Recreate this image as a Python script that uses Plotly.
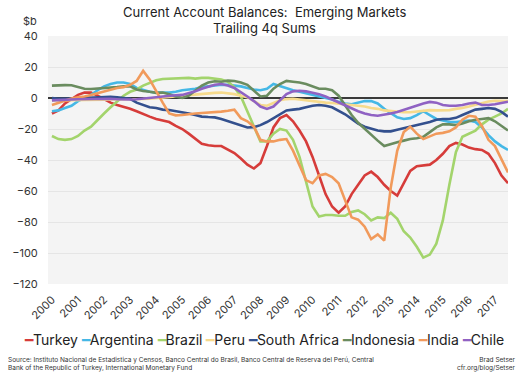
import plotly.graph_objects as go

years = list(range(2000, 2018))
tick_labels = [str(y) for y in years]
n_quarters = 71  # 2000Q1 .. 2017Q3
quarters = [2000 + i / 4 for i in range(n_quarters)]

turkey = [-10, -8, -3.5, -1, 2, 3.5, 3.5, 1.5, -1, -3,
          -4.5, -5.5, -7, -8.6, -10.5, -12, -13.5, -14.5, -15.5, -18,
          -20, -23, -26, -29.5, -30.5, -31, -31, -33, -35.5, -39,
          -43, -45.5, -42, -31, -19, -13, -11, -15, -21, -28,
          -38, -50, -62, -70, -74, -70, -62, -56, -50, -47.5,
          -51, -56, -60, -63, -55, -47, -44, -43.5, -43, -40,
          -36, -31, -29, -30, -32, -33, -33.5, -36, -42, -50, -55]
argentina = [-8.5, -8, -6.5, -5, -2, 0, 2, 5, 7.5, 9,
             10, 10, 9, 6.5, 5, 4, 3.5, 3.5, 3.5, 4,
             5, 5.5, 6, 7, 7.5, 8, 8.5, 8.5, 8, 7.5,
             6.5, 5.5, 5, 6, 9, 7.5, 6, 5, 4, 3,
             2, 1, 0, -1, -2.5, -3.5, -4, -3, -2, -2,
             -3.5, -7, -10, -12.5, -13.5, -13, -11, -8.5, -11, -13.5,
             -14.5, -15.5, -15.5, -15, -14.5, -15.5, -19, -24, -28, -31, -33.5]
brazil = [-24.5, -26.5, -27, -26.5, -24.5, -21, -18.5, -14, -10, -6,
          -2, 1.5, 4, 5.5, 8, 10, 11.5, 12.3, 12.5, 12.5,
          13, 13, 12.5, 13, 13, 12.5, 12, 10.5, 7, 1,
          -9, -19, -28, -28, -23, -20, -21, -27, -38, -54,
          -70, -76.5, -75.5, -75.5, -76, -76, -73.5, -72.5, -75, -79,
          -77, -77.5, -74, -78, -86, -90, -96, -103, -101, -94,
          -79, -56, -35, -25, -23, -21, -17, -14, -12, -10, -7]
peru = [-1.5, -1.5, -1.4, -1.3, -1.2, -1.2, -1.1, -1.1, -1.1, -1.0,
        -1.0, -1.0, -0.9, -0.8, -0.6, -0.4, 0, 0.3, 0.6, 0.8,
        1.2, 1.6, 2.0, 2.5, 2.9, 3.3, 3.5, 3.2, 2.5, 1.5,
        0.5, -2, -4.5, -5, -3.5, -1.5, -0.7, -0.5, -1, -1.5,
        -2.2, -2.8, -3, -3.2, -3.5, -3.8, -4.5, -5, -5.5, -6.5,
        -7, -8, -8.5, -9, -9.2, -9.2, -8.8, -8.2, -7.8, -8,
        -8, -7.8, -7, -6.5, -5.5, -4.5, -3, -2.2, -1.8, -1.8, -2]
south_africa = [0, -0.5, -0.5, -0.3, 0, 0.3, 0.5, 0.8, 1, 0.8,
                0.5, 0.2, -0.5, -3, -4.5, -6, -6.5, -7.5, -7.8, -8.5,
                -9, -10, -11, -12, -12.3, -12.5, -13.5, -15, -16.5, -18,
                -19, -18.8, -17.5, -15.5, -13, -10, -8, -7.5, -7, -6,
                -5, -4.5, -5, -6, -8, -10.5, -13.5, -16.5, -18.5, -20,
                -21, -21.5, -21.5, -20.5, -19.5, -18.5, -17.8, -17, -15.5, -14,
                -13.5, -13.5, -12.8, -11, -9, -7.5, -7, -6.5, -7, -9, -12]
indonesia = [8, 8.3, 8.3, 8.2, 7, 6, 5.8, 6, 6.3, 6.5,
             7, 7.5, 7.5, 5.5, 4.5, 4, 3.3, 3.5, 2.5, 1,
             0, 1.5, 4.5, 8, 10, 10.8, 10.5, 11.2, 11, 10,
             8.5, 5, 1, 1.5, 6, 9, 11, 10.5, 10, 9,
             7.5, 6, 6, 5, 1.5, -5, -11, -16, -20, -24,
             -27.5, -31, -29.5, -28.5, -27.5, -26.5, -26, -25, -22, -19,
             -17, -17, -17.5, -16.5, -15, -14, -13.5, -13, -15, -18, -21]
india = [-4.5, -3, -1.5, -0.3, 0.5, 1, 2, 3, 4, 5.5,
         6.5, 7, 8.5, 11, 17.5, 12, 4, -3, -10, -11.2,
         -11, -10.3, -10, -9.7, -9.5, -9.2, -8.8, -8.2, -7.5, -13,
         -15, -18.5, -27, -28, -28, -27, -26.5, -34, -43, -53,
         -55, -50, -49, -51, -55, -66, -77, -78.5, -83, -91,
         -88, -92, -58, -34, -22, -18.5, -23, -26.5, -25, -23,
         -22.5, -21.5, -19, -14, -11.5, -12, -18, -27, -31, -39, -48]
chile = [-1.5, -1.2, -1, -1, -0.8, -0.7, -0.5, -0.5, -0.3, -0.5,
         -0.8, -1, -1, -0.8, -0.5, 0, 0.5, 1, 1.5, 1.8,
         2, 3, 4.3, 6, 7.5, 8.5, 9, 8, 6.5, 4,
         1, -2, -5.5, -7, -5.5, -1.5, 2.5, 4.3, 4.7, 4.3,
         3.5, 2.5, 1, -1, -3, -5, -7, -8.5, -10, -11,
         -11.4, -10.8, -10, -9, -7.5, -6.5, -5, -3.5, -2.5, -3,
         -4.5, -5, -5, -4.5, -3.5, -3, -4.5, -4.5, -4, -3.2, -2.4]

series = [
    ("Turkey", turkey, "#d63c3a"),
    ("Argentina", argentina, "#45b8e6"),
    ("Brazil", brazil, "#a3d46c"),
    ("Peru", peru, "#f6da8c"),
    ("South Africa", south_africa, "#33508e"),
    ("Indonesia", indonesia, "#6a8c5f"),
    ("India", india, "#f19a5b"),
    ("Chile", chile, "#8f62c3"),
]

FONT = "Inter, 'Open Sans', sans-serif"
W, H = 520, 375
L, R, T, B = 40, 12, 36, 91
pw, ph = W - L - R, H - T - B


def px_to_paper(px, py):
    return (px - L) / pw, 1 - (py - T) / ph


fig = go.Figure()
for name, vals, color in series:
    fig.add_trace(go.Scatter(x=quarters, y=vals, name=name, mode="lines",
                             line=dict(color=color, width=2.6), showlegend=False))

fig.update_layout(
    width=W, height=H,
    margin=dict(l=L, r=R, t=T, b=B),
    paper_bgcolor="white",
    plot_bgcolor="#f4f4f4",
    font=dict(family=FONT, color="#333", size=11),
    xaxis=dict(range=[1999.849, 2017.5], tickvals=years, ticktext=tick_labels,
               tickangle=-45, showgrid=False, zeroline=False, showline=False,
               ticks="outside", ticklen=4, tickcolor="rgba(0,0,0,0)",
               tickfont=dict(size=11, color="#333")),
    yaxis=dict(range=[-120, 40], dtick=20, showgrid=True, gridcolor="#e5e5e5",
               gridwidth=1, zeroline=True, zerolinecolor="#3a3a3a", zerolinewidth=1.5,
               showline=False, ticks="outside", ticklen=7, tickcolor="rgba(0,0,0,0)",
               tickfont=dict(size=11, color="#333")),
)


def add_text(text, px, py, size, xanchor="center", align="center", color="#333"):
    x, y = px_to_paper(px, py)
    fig.add_annotation(text=text, x=x, y=y, xref="paper", yref="paper", showarrow=False,
                       xanchor=xanchor, yanchor="middle", align=align,
                       font=dict(size=size, color=color, family=FONT))


add_text("Current Account Balances:\u00a0 Emerging Markets", 260, 12, 13, color="#222")
add_text("Trailing 4q Sums", 260, 28, 13, color="#222")
add_text("$b", 22, 21, 11)

legend_text = "\u00a0".join(
    f"<span style='color:{c}'>━</span>{n}" for n, _, c in series)
add_text(legend_text, 260, 339, 14, color="#222")

add_text("Source: Instituto Nacional de Estadistica y Censos, Banco Central do Brasil, "
         "Banco Central de Reserva del Perú, Central<br>Bank of the Republic of Turkey, "
         "International Monetary Fund", 185, 363.5, 6.5, xanchor="center", align="left")
add_text("Brad Setser<br>cfr.org/blog/Setser", 518, 363.5, 6.5, xanchor="right", align="right")

fig.write_html("out.html", config={"displayModeBar": False},
               post_script="document.body.style.margin='0';")
